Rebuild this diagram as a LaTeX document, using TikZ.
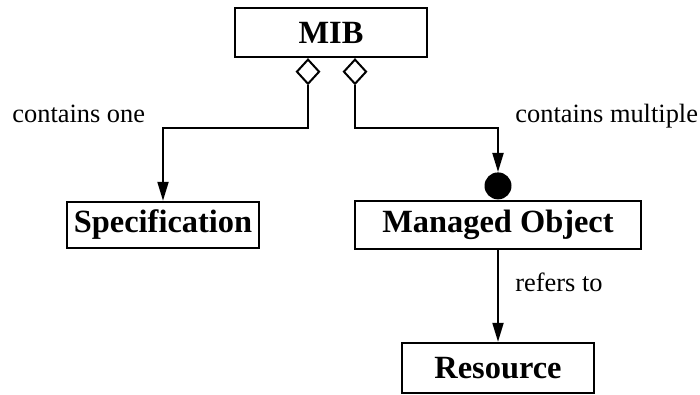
\documentclass[tikz,border=0pt]{standalone}
\usepackage{fontspec}
\setmainfont{Liberation Serif}
\usetikzlibrary{shapes.geometric,arrows.meta}
\tikzset{
  box/.style={draw, line width=1.2pt, minimum width=96pt, minimum height=24pt, inner sep=0pt, font=\fontsize{16.2}{19}\selectfont\bfseries},
  lbl/.style={anchor=base west, inner sep=0pt, font=\fontsize{13.2}{16}\selectfont},
  link/.style={line width=1pt, -{Triangle[length=9.5pt,width=5.5pt]}},
  agg/.style={diamond, draw, fill=white, line width=1pt, inner sep=0pt, minimum width=11.5pt, minimum height=12.5pt, anchor=north},
}
\begin{document}
\begin{tikzpicture}[x=0.5pt, y=-0.5pt]
    \useasboundingbox (0,0) rectangle (700,395);
    \node[box, minimum height=24.5pt] (mib) at (331,32.5) {MIB};
    \node[box, minimum height=23pt] (spec) at (163,225) {Specification};
    \node[box, minimum width=143pt] (obj) at (498,225) {Managed Object};
    \node[box, minimum height=25pt] (res) at (498,368) {Resource};
    % aggregation ends and the dot
    \node[agg] (one) at (mib.south -| 308,0) {};
    \node[agg] (many) at (mib.south -| 355,0) {};
    \node[circle, fill, inner sep=0pt, minimum size=13.5pt, anchor=south] (dot) at (obj.north) {};
    \coordinate (bend1) at (308,128);
    \coordinate (bend2) at (355,128);
    \draw[link] (one.south) -- (bend1) -| (spec.north);
    \draw[link] (many.south) -- (bend2) -| (dot.north);
    \draw[link] (obj.south) -- (res.north);
    \node[lbl] (l1) at (12,123) {contains one};
    \node[lbl] (l2) at (515,123) {contains multiple};
    \node[lbl] (l3) at (515,291) {refers to};
\end{tikzpicture}
\end{document}
